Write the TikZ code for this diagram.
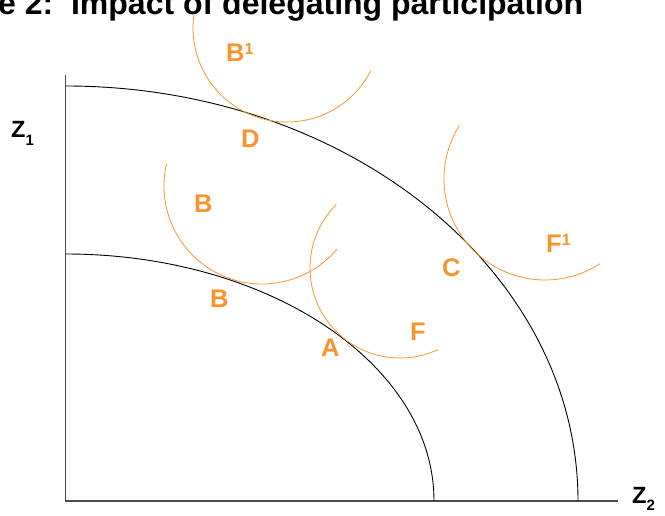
\documentclass[tikz,border=0pt]{standalone}
\usepackage{fontspec}
\setmainfont{Liberation Sans}
\definecolor{org}{RGB}{248,148,45}
\begin{document}
\begin{tikzpicture}[x=1pt,y=1pt,
  lbl/.style={font=\fontsize{25.5}{25.5}\selectfont\bfseries, text=org, inner sep=0pt, anchor=base west},
  zlbl/.style={font=\fontsize{23.5}{23.5}\selectfont\bfseries, text=black, inner sep=0pt, anchor=base west},
  axisline/.style={draw=black!70, line width=1.4pt},
  frontier/.style={draw=black, line width=0.9pt},
  indiff/.style={draw=org, line width=0.8pt}]
\useasboundingbox (0,0) rectangle (665,515);

% title
\node[anchor=base west, inner sep=0pt, font=\fontsize{32}{32}\selectfont\bfseries] (title) at (-2,500) {e 2:\ \ Impact of delegating participation};

% axes
\coordinate (O) at (65.5,14);
\coordinate (ytop) at (65.5,440);
\coordinate (xend) at (618,14);
\draw[axisline] (ytop) -- (O) -- (xend);

% frontiers
\coordinate (in0) at (65.5,261);
\coordinate (out0) at (65.5,429);
\draw[frontier] (in0) arc[start angle=90, end angle=0, x radius=368.5pt, y radius=247pt];
\draw[frontier] (out0) arc[start angle=90, end angle=0, x radius=512.5pt, y radius=415pt];

% indifference curves
\coordinate (cB1) at (287,487);
\coordinate (cB) at (262,329);
\coordinate (cF) at (400,247);
\coordinate (cF1) at (545,336);
\draw[indiff] (cB1) ++(172:94pt) arc[start angle=172, end angle=333, radius=94pt];
\draw[indiff] (cB) ++(167:98pt) arc[start angle=167, end angle=320, radius=98pt];
\draw[indiff] (cF) ++(135:90pt) arc[start angle=135, end angle=295, radius=90pt];
\draw[indiff] (cF1) ++(148:101pt) arc[start angle=148, end angle=303, radius=101pt];

% labels
\node[lbl] (lB1) at (226,453) {B\raisebox{7.5pt}{\fontsize{16}{16}\selectfont 1}};
\node[lbl] (lD) at (241,367) {D};
\node[lbl] (lBu) at (194,302) {B};
\node[lbl] (lBl) at (210,207) {B};
\node[lbl] (lA) at (321,158) {A};
\node[lbl] (lF) at (410,174) {F};
\node[lbl] (lC) at (442,238) {C};
\node[lbl] (lF1) at (546,262) {F\raisebox{7.5pt}{\fontsize{16}{16}\selectfont 1}};

\node[zlbl] (z1) at (11,377) {Z\raisebox{-8pt}{\fontsize{15}{15}\selectfont 1}};
\node[zlbl] (z2) at (632,12) {Z\raisebox{-7pt}{\fontsize{15}{15}\selectfont 2}};
\end{tikzpicture}
\end{document}
